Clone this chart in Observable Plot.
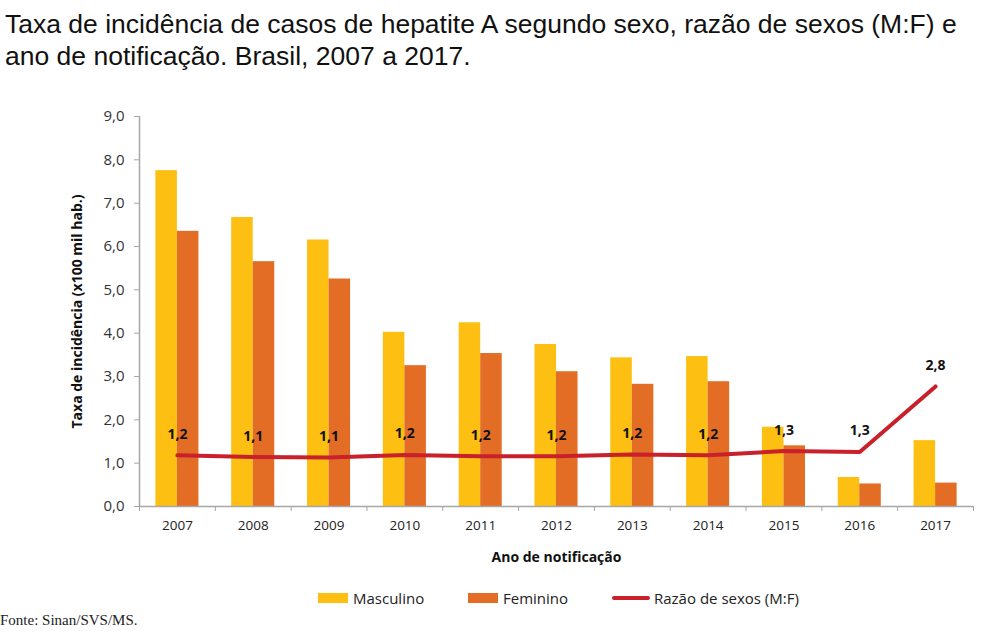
<!DOCTYPE html>
<html>
<head>
<meta charset="utf-8">
<script src="https://cdn.jsdelivr.net/npm/d3@7"></script>
<script src="https://cdn.jsdelivr.net/npm/@observablehq/plot@0.6"></script>
<style>
  body { margin: 0; background: #fff; width: 998px; height: 633px; overflow: hidden; position: relative; font-family: "Open Sans", sans-serif; }
  #title { font-family: "Liberation Sans", Arial, sans-serif; font-size: 26.5px; line-height: 32px; color: #111; padding: 8px 0 0 5px; height: 80px; box-sizing: border-box; white-space: nowrap; }
  #chart { position: absolute; left: 0; top: 80px; }
  .leg { position: absolute; top: 588px; height: 20px; display: flex; align-items: center; font-size: 15px; color: #222; }
  .sw { display: inline-block; margin-right: 5px; }
  #fonte { position: absolute; left: 0; top: 612px; font-family: "Liberation Serif", serif; font-size: 15px; color: #222; }
</style>
</head>
<body>
<div id="title">Taxa de incidência de casos de hepatite A segundo sexo, razão de sexos (M:F) e<br>ano de notificação. Brasil, 2007 a 2017.</div>
<div id="chart"></div>
<div class="leg" style="left:318px"><span class="sw" style="width:30px;height:10px;background:#FDBF12"></span>Masculino</div>
<div class="leg" style="left:468px"><span class="sw" style="width:30px;height:10px;background:#E46D25"></span>Feminino</div>
<div class="leg" style="left:612px"><span class="sw" style="width:38px;height:4px;background:#C8212B;border-radius:2px;margin-right:4px"></span>Razão de sexos (M:F)</div>
<div id="fonte">Fonte: Sinan/SVS/MS.</div>
<script>
const years = [2007, 2008, 2009, 2010, 2011, 2012, 2013, 2014, 2015, 2016, 2017];
const masculino = [7.75, 6.67, 6.15, 4.02, 4.24, 3.74, 3.43, 3.46, 1.83, 0.67, 1.52];
const feminino = [6.35, 5.65, 5.25, 3.25, 3.53, 3.11, 2.82, 2.88, 1.40, 0.52, 0.54];
const razao = [1.18, 1.14, 1.13, 1.19, 1.16, 1.16, 1.20, 1.18, 1.28, 1.26, 2.77];
const yTicks = [0, 1, 2, 3, 4, 5, 6, 7, 8, 9];

const data = years.map((year, i) => ({year, m: masculino[i], f: feminino[i], r: razao[i]}));
const fmt1 = v => v.toFixed(1).replace(".", ",");
const half = 0.284;
const boundaries = d3.range(years[0] - 0.5, years[years.length - 1] + 1, 1);
const axisGray = "#A6A6A6";

const chart = Plot.plot({
  width: 998,
  height: 500,
  marginLeft: 139,
  marginRight: 25,
  marginTop: 36,
  marginBottom: 74,
  style: {fontFamily: "'Open Sans', sans-serif", fontSize: "13px", color: "#333", background: "transparent"},
  x: {type: "linear", domain: [years[0] - 0.5, years[years.length - 1] + 0.5]},
  y: {domain: [0, 9]},
  marks: [
    Plot.rectY(data, {x1: d => d.year - half, x2: d => d.year, y: "m", fill: "#FDBF12"}),
    Plot.rectY(data, {x1: d => d.year, x2: d => d.year + half, y: "f", fill: "#E46D25"}),
    Plot.ruleY([0], {stroke: axisGray, strokeWidth: 1.5}),
    Plot.ruleX([years[0] - 0.5], {stroke: axisGray, strokeWidth: 1.5}),
    Plot.axisY(yTicks, {tickFormat: fmt1, tickSize: 5, tickPadding: 10, stroke: axisGray, fill: "#333", label: null, fontSize: 15}),
    Plot.axisX(boundaries, {tickFormat: () => "", tickSize: 5, stroke: axisGray, label: null}),
    Plot.axisX(years, {tickFormat: d => String(d), tickSize: 0, tickPadding: 14, fill: "#222", label: null, fontSize: 13.5}),
    Plot.text(["Taxa de incidência (x100 mil hab.)"], {frameAnchor: "left", textAnchor: "middle", rotate: -90, dx: -62, fontWeight: "bold", fontSize: 14, fill: "#111"}),
    Plot.text(["Ano de notificação"], {frameAnchor: "bottom", lineAnchor: "middle", dy: 51, fontWeight: "bold", fontSize: 14, fill: "#111"}),
    Plot.line(data, {x: "year", y: "r", stroke: "#C8212B", strokeWidth: 4, strokeLinecap: "round", strokeLinejoin: "round"}),
    Plot.text(data, {x: "year", y: "r", text: d => fmt1(d.r), dy: -21, fontWeight: "bold", fontSize: 14, fill: "#111"})
  ]
});
document.getElementById("chart").appendChild(chart);
</script>
</body>
</html>
